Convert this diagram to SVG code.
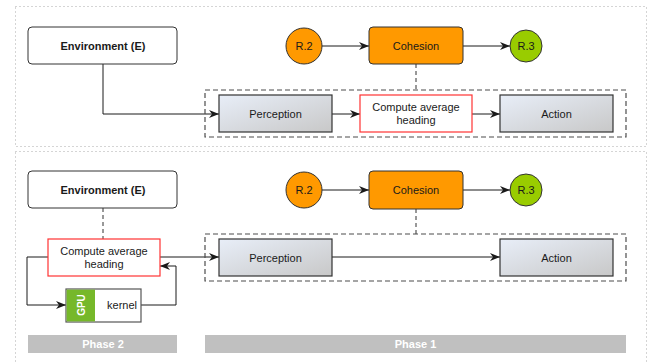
<svg xmlns="http://www.w3.org/2000/svg" width="649" height="364" viewBox="0 0 649 364">
<style>
text{font-family:"Liberation Sans",Arial,sans-serif;font-size:11px;fill:#1a1a1a;text-anchor:middle}
.b{font-weight:bold}
.w{fill:#fff;font-weight:bold}
.panel{fill:none;stroke:#aaa;stroke-width:1;stroke-dasharray:1 3}
.cont{fill:none;stroke:#4d4d4d;stroke-width:1.2;stroke-dasharray:5 3}
.env{fill:#fff;stroke:#333;stroke-width:1}
.coh{fill:#FF9900;stroke:#333;stroke-width:1}
.r2{fill:#FF9900;stroke:#333;stroke-width:1}
.r3{fill:#99CC00;stroke:#333;stroke-width:1}
.grad{fill:url(#g);stroke:#333;stroke-width:1.2}
.red{fill:#fff;stroke:#FF3333;stroke-width:1.2}
.gpu{fill:#fff;stroke:#555;stroke-width:1.2}
.phase{fill:#C0C0C0}
.ln{fill:none;stroke:#1a1a1a;stroke-width:1}
.dl{fill:none;stroke:#333;stroke-width:1;stroke-dasharray:4 3}
</style>
<defs>
<linearGradient id="g" x1="0" y1="0" x2="1" y2="1">
<stop offset="0" stop-color="#E8EEF8"/>
<stop offset="1" stop-color="#C8C8C8"/>
</linearGradient>
<marker id="a" markerUnits="userSpaceOnUse" markerWidth="12" markerHeight="10" refX="10" refY="4" orient="auto">
<path d="M0,0 L10,4 L0,8 L3,4 Z" fill="#1a1a1a"/>
</marker>
</defs>
<rect class="panel" x="15.5" y="6.5" width="631" height="140"/>
<rect class="panel" x="15.5" y="151.5" width="631" height="230"/>
<g id="connectors">
<path class="ln" d="M103,64 V114 H219" marker-end="url(#a)"/>
<path class="ln" d="M322,46 H369" marker-end="url(#a)"/>
<path class="ln" d="M463,46 H510" marker-end="url(#a)"/>
<path class="dl" d="M416,64 V90"/>
<path class="ln" d="M332,114 H360" marker-end="url(#a)"/>
<path class="ln" d="M472,114 H500" marker-end="url(#a)"/>
<path class="ln" d="M322,190 H369" marker-end="url(#a)"/>
<path class="ln" d="M463,190 H510" marker-end="url(#a)"/>
<path class="dl" d="M416,209 V234"/>
<path class="dl" d="M103,208 V239"/>
<path class="ln" d="M160,257 H219" marker-end="url(#a)"/>
<path class="ln" d="M332,257 H500" marker-end="url(#a)"/>
<path class="ln" d="M48,257 H27 V305 H66" marker-end="url(#a)"/>
<path class="ln" d="M141,305 H176 V266 H160" marker-end="url(#a)"/>
</g>
<g id="container-top"><rect class="cont" x="205" y="90" width="421" height="47"/></g>
<g id="container-bottom"><rect class="cont" x="205" y="234" width="421" height="47"/></g>
<g id="env-top"><rect class="env" x="28" y="27" width="149" height="37" rx="4"/><text class="b" x="103" y="50">Environment (E)</text></g>
<g id="r2-top"><circle class="r2" cx="304" cy="46" r="18"/><text x="304" y="50">R.2</text></g>
<g id="cohesion-top"><rect class="coh" x="369" y="27" width="94" height="37" rx="4"/><text x="416" y="50">Cohesion</text></g>
<g id="r3-top"><circle class="r3" cx="526" cy="46" r="16"/><text x="526" y="50">R.3</text></g>
<g id="perception-top"><rect class="grad" x="219" y="95" width="113" height="37"/><text x="275.5" y="118">Perception</text></g>
<g id="compute-top"><rect class="red" x="360" y="95" width="112" height="37"/><text x="416" y="111">Compute average</text><text x="416" y="124">heading</text></g>
<g id="action-top"><rect class="grad" x="500" y="95" width="113" height="37"/><text x="556.5" y="118">Action</text></g>
<g id="env-bottom"><rect class="env" x="28" y="171" width="149" height="37" rx="4"/><text class="b" x="103" y="194">Environment (E)</text></g>
<g id="r2-bottom"><circle class="r2" cx="304" cy="190" r="18"/><text x="304" y="194">R.2</text></g>
<g id="cohesion-bottom"><rect class="coh" x="369" y="171" width="94" height="38" rx="4"/><text x="416" y="194">Cohesion</text></g>
<g id="r3-bottom"><circle class="r3" cx="526" cy="190" r="16"/><text x="526" y="194">R.3</text></g>
<g id="perception-bottom"><rect class="grad" x="219" y="239" width="113" height="37"/><text x="275.5" y="262">Perception</text></g>
<g id="action-bottom"><rect class="grad" x="500" y="239" width="113" height="37"/><text x="556.5" y="262">Action</text></g>
<g id="compute-bottom"><rect class="red" x="48" y="239" width="112" height="37"/><text x="104" y="255">Compute average</text><text x="104" y="268">heading</text></g>
<g id="gpu-kernel"><rect class="gpu" x="66" y="289" width="75" height="33"/><rect x="66.6" y="289.6" width="28.4" height="31.8" fill="#76B82A"/><text class="w" transform="translate(84.5,305) rotate(-90)" x="0" y="0" style="font-size:10px">GPU</text><text x="122" y="309">kernel</text></g>
<g id="phase2"><rect class="phase" x="28" y="335" width="149" height="18"/><text class="w" x="103" y="348">Phase 2</text></g>
<g id="phase1"><rect class="phase" x="205" y="335" width="421" height="18"/><text class="w" x="415.5" y="348">Phase 1</text></g>
</svg>
